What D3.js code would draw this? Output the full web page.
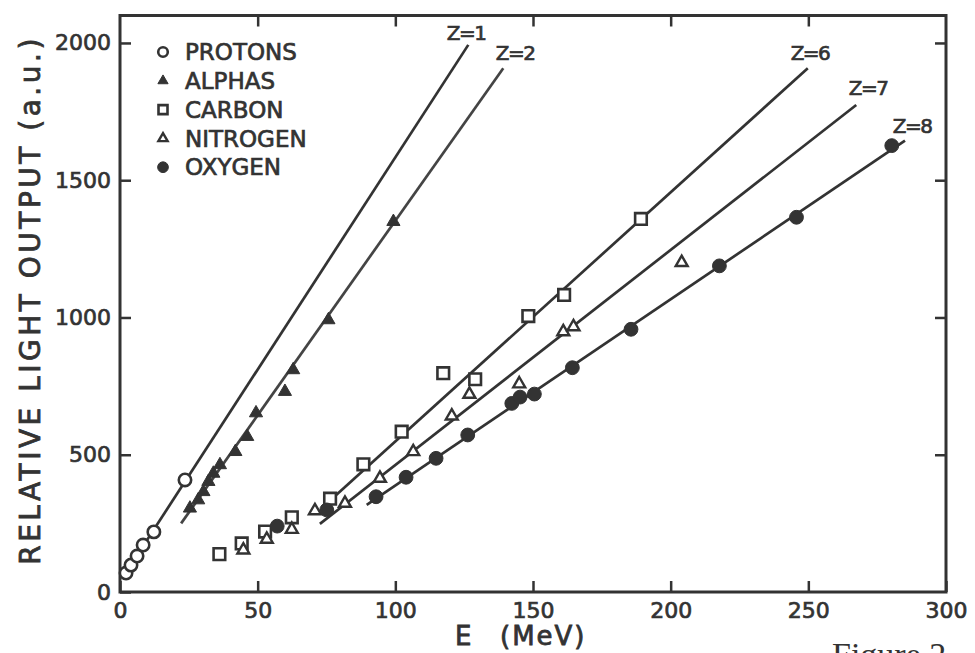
<!DOCTYPE html>
<html>
<head>
<meta charset="utf-8">
<script src="https://cdn.jsdelivr.net/npm/d3@7"></script>
<style>
  body { margin: 0; background: #fff; }
  text { font-family: 'DejaVu Sans', sans-serif; fill: #333; }
</style>
</head>
<body>
<div id="chart"></div>
<script>
// values (E in MeV, light output in a.u.)
const protons = [[2.2, 69], [4.0, 98], [6.2, 131], [8.4, 171], [12.3, 219], [23.6, 408]];
const alphas = [[25.4, 305], [28.4, 335], [30.3, 365], [32.1, 402], [33.9, 432], [36.3, 463],
  [41.9, 511], [46.2, 566], [49.4, 652], [59.9, 730], [62.9, 809], [75.7, 991], [99.3, 1349]];
const carbon = [[36.1, 138], [44.2, 177], [52.7, 220], [62.4, 272], [76.3, 340], [88.4, 465],
  [102.3, 584], [117.4, 797], [129.0, 775], [148.3, 1005], [161.3, 1082], [189.2, 1359]];
const nitrogen = [[44.8, 153], [53.3, 192], [62.4, 228], [70.8, 296], [81.7, 323], [94.4, 414],
  [106.5, 511], [120.5, 641], [126.9, 720], [145.0, 758], [161.0, 948], [164.7, 966], [204.0, 1200]];
const oxygen = [[57.1, 240], [75.1, 299], [93.0, 347], [103.9, 418], [114.8, 487], [126.3, 572],
  [142.3, 687], [145.3, 710], [150.5, 721], [164.3, 817], [185.6, 957], [217.7, 1188],
  [245.7, 1365], [280.3, 1626]];

// fitted straight lines, end points
const fitZ1 = [[1.2, 56], [126.5, 1993]];
const fitZ2 = [[22.2, 250], [139.2, 1908]];
const fitZ6 = [[74.5, 317], [249.8, 1908]];
const fitZ7 = [[72.6, 248], [267.4, 1774]];
const fitZ8 = [[89.6, 317], [285.1, 1644]];

const zLabels = ['Z=1', 'Z=2', 'Z=6', 'Z=7', 'Z=8'];
const zLabelPos = [[125.7, 2011], [143.5, 1938], [250.6, 1938], [271.7, 1811], [287.7, 1672]];

const legendNames = ['PROTONS', 'ALPHAS', 'CARBON', 'NITROGEN', 'OXYGEN'];
const xTicks = [0, 50, 100, 150, 200, 250, 300];
const yTicks = [0, 500, 1000, 1500, 2000];

const ink = '#333';
const W = 975, H = 653;

const svg = d3.select('#chart').append('svg')
  .attr('width', W)
  .attr('height', H);

svg.append('rect').attr('width', W).attr('height', H).attr('fill', '#fff');

const x = d3.scaleLinear().domain([0, 300]).range([120, 946]);
const y = d3.scaleLinear().domain([0, 2100]).range([592, 15.5]);

// frame
svg.append('rect')
  .attr('x', x(0))
  .attr('y', y(2100))
  .attr('width', x(300) - x(0))
  .attr('height', y(0) - y(2100))
  .attr('fill', 'none')
  .attr('stroke', ink)
  .attr('stroke-width', 3);

function styleAxis(g) {
  g.select('.domain').remove();
  g.selectAll('.tick line').attr('stroke', ink).attr('stroke-width', 2.5);
  g.selectAll('.tick text')
    .attr('fill', ink)
    .attr('stroke', ink)
    .attr('stroke-width', 0.7)
    .style('font-size', '22px')
    .style('font-family', 'DejaVu Sans');
}

svg.append('g')
  .attr('transform', 'translate(0,' + y(0) + ')')
  .call(d3.axisBottom(x).tickValues(xTicks).tickSize(-11).tickPadding(10).tickFormat(d3.format('d')))
  .call(styleAxis);

svg.append('g')
  .attr('transform', 'translate(' + x(0) + ',0)')
  .call(d3.axisLeft(y).tickValues(yTicks).tickSize(-11).tickPadding(9).tickFormat(d3.format('d')))
  .call(styleAxis);

svg.append('g')
  .attr('transform', 'translate(0,' + y(2100) + ')')
  .call(d3.axisTop(x).tickValues(xTicks.slice(1, -1)).tickSize(-11).tickFormat(''))
  .call(styleAxis);

svg.append('g')
  .attr('transform', 'translate(' + x(300) + ',0)')
  .call(d3.axisRight(y).tickValues(yTicks.slice(1)).tickSize(-11).tickFormat(''))
  .call(styleAxis);

// axis titles
svg.append('text')
  .attr('transform', 'translate(40,' + 300 + ') rotate(-90)')
  .attr('text-anchor', 'middle')
  .attr('stroke', ink)
  .attr('stroke-width', 0.8)
  .style('font-size', '28px')
  .style('letter-spacing', '3.5px')
  .text('RELATIVE LIGHT OUTPUT (a.u.)');

svg.append('text')
  .attr('x', 455)
  .attr('y', 645)
  .attr('stroke', ink)
  .attr('stroke-width', 0.8)
  .style('font-size', '26px')
  .style('letter-spacing', '2px')
  .text('E');

svg.append('text')
  .attr('x', 500)
  .attr('y', 645)
  .attr('stroke', ink)
  .attr('stroke-width', 0.8)
  .style('font-size', '26px')
  .style('letter-spacing', '2px')
  .text('(MeV)');

// caption cut off by the page edge, as in the scan
svg.append('text')
  .attr('x', 832)
  .attr('y', 666)
  .style('font-family', 'Liberation Serif, serif')
  .style('font-size', '34px')
  .text('Figure 2');

// fit lines
const line = d3.line()
  .x(function (d) { return x(d[0]); })
  .y(function (d) { return y(d[1]); });

svg.append('g')
  .selectAll('path')
  .data([fitZ1, fitZ2, fitZ6, fitZ7, fitZ8])
  .enter()
  .append('path')
  .attr('d', line)
  .attr('fill', 'none')
  .attr('stroke', function (d, i) { return i === 1 ? '#444' : ink; })
  .attr('stroke-width', 2.7);

svg.append('g')
  .selectAll('text')
  .data(zLabels)
  .enter()
  .append('text')
  .attr('x', function (d, i) { return x(zLabelPos[i][0]); })
  .attr('y', function (d, i) { return y(zLabelPos[i][1]); })
  .attr('text-anchor', 'middle')
  .attr('stroke', ink)
  .attr('stroke-width', 0.7)
  .style('font-size', '20px')
  .style('letter-spacing', '-1.5px')
  .text(function (d) { return d; });

// marker styles, one per particle
const markers = [
  { shape: d3.symbolCircle, size: 120, fill: '#fff', sw: 2.6 },
  { shape: d3.symbolTriangle, size: 75, fill: ink, sw: 1 },
  { shape: d3.symbolSquare, size: 135, fill: '#fff', sw: 2.6 },
  { shape: d3.symbolTriangle, size: 62, fill: '#fff', sw: 2.4 },
  { shape: d3.symbolCircle, size: 150, fill: ink, sw: 1 },
];

const series = [protons, alphas, carbon, nitrogen, oxygen];

series.forEach(function (pts, k) {
  const m = markers[k];
  svg.append('g')
    .selectAll('path')
    .data(pts)
    .enter()
    .append('path')
    .attr('transform', function (d) { return 'translate(' + x(d[0]) + ',' + y(d[1]) + ')'; })
    .attr('d', d3.symbol().type(m.shape).size(m.size))
    .attr('fill', m.fill)
    .attr('stroke', ink)
    .attr('stroke-width', m.sw);
});

// legend
const legend = svg.append('g').attr('transform', 'translate(163,52)');

const item = legend.selectAll('g')
  .data(legendNames)
  .enter()
  .append('g')
  .attr('transform', function (d, i) { return 'translate(0,' + i * 28.8 + ')'; });

item.append('path')
  .attr('d', function (d, i) { return d3.symbol().type(markers[i].shape).size(markers[i].size * 0.6)(); })
  .attr('fill', function (d, i) { return markers[i].fill; })
  .attr('stroke', ink)
  .attr('stroke-width', function (d, i) { return markers[i].sw; });

item.append('text')
  .attr('x', 22)
  .attr('dy', '0.36em')
  .attr('stroke', ink)
  .attr('stroke-width', 0.7)
  .style('font-size', '23px')
  .text(function (d) { return d; });
</script>
</body>
</html>
